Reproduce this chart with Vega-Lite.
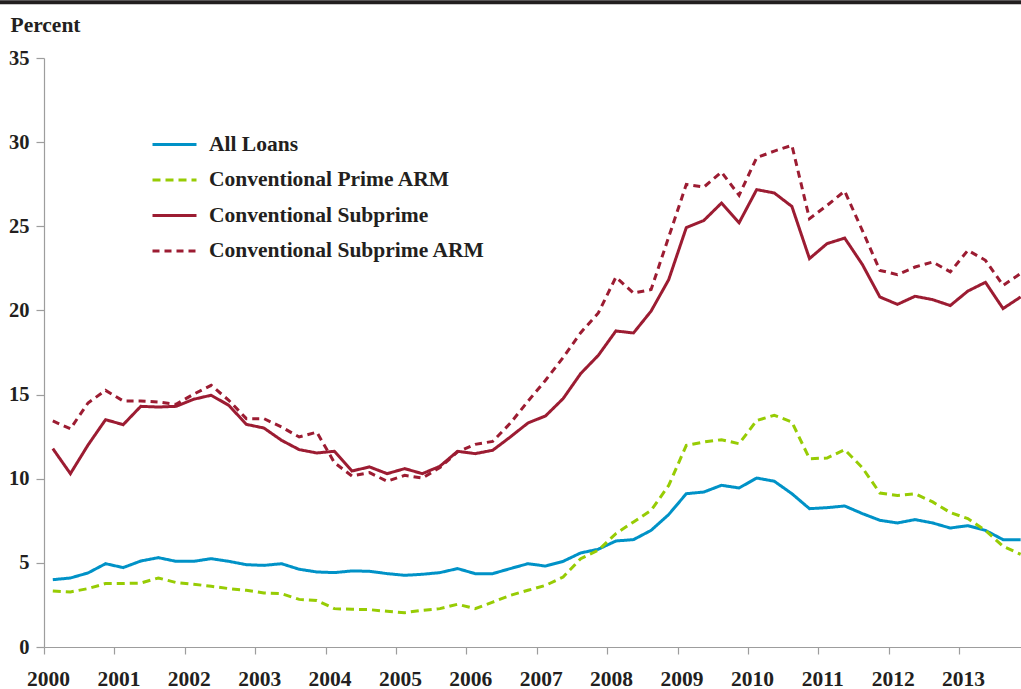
{
  "$schema": "https://vega.github.io/schema/vega-lite/v6.json",
  "width": 977,
  "height": 589,
  "autosize": {"type": "none"},
  "padding": {"left": 44, "top": 58, "right": 0, "bottom": 42},
  "background": "white",
  "config": {
    "view": {"stroke": null},
    "font": "Liberation Serif",
    "axis": {
      "labelFont": "Liberation Serif",
      "labelFontWeight": "bold",
      "labelFontSize": 20.5,
      "labelColor": "#231F20",
      "domainColor": "#9d9d9d",
      "tickColor": "#9d9d9d",
      "domainWidth": 1.2,
      "tickWidth": 1.2,
      "grid": false,
      "titleFont": "Liberation Serif",
      "titleFontWeight": "bold",
      "titleColor": "#231F20"
    },
    "legend": {
      "orient": "none",
      "legendX": 107,
      "legendY": 63,
      "labelFont": "Liberation Serif",
      "labelFontWeight": "bold",
      "labelFontSize": 21.5,
      "labelColor": "#231F20",
      "symbolType": "stroke",
      "symbolSize": 1936,
      "symbolStrokeWidth": 3,
      "labelOffset": 11,
      "rowPadding": 1.5,
      "labelLimit": 500
    }
  },
  "datasets": {
    "rates": [
      {"t": 2000.125, "All Loans": 4.00, "Conventional Prime ARM": 3.33, "Conventional Subprime": 11.79, "Conventional Subprime ARM": 13.43},
      {"t": 2000.375, "All Loans": 4.10, "Conventional Prime ARM": 3.27, "Conventional Subprime": 10.30, "Conventional Subprime ARM": 12.97},
      {"t": 2000.625, "All Loans": 4.40, "Conventional Prime ARM": 3.47, "Conventional Subprime": 12.00, "Conventional Subprime ARM": 14.50},
      {"t": 2000.875, "All Loans": 4.95, "Conventional Prime ARM": 3.77, "Conventional Subprime": 13.51, "Conventional Subprime ARM": 15.25},
      {"t": 2001.125, "All Loans": 4.72, "Conventional Prime ARM": 3.77, "Conventional Subprime": 13.21, "Conventional Subprime ARM": 14.62},
      {"t": 2001.375, "All Loans": 5.11, "Conventional Prime ARM": 3.80, "Conventional Subprime": 14.30, "Conventional Subprime ARM": 14.62},
      {"t": 2001.625, "All Loans": 5.31, "Conventional Prime ARM": 4.10, "Conventional Subprime": 14.26, "Conventional Subprime ARM": 14.56},
      {"t": 2001.875, "All Loans": 5.09, "Conventional Prime ARM": 3.83, "Conventional Subprime": 14.30, "Conventional Subprime ARM": 14.42},
      {"t": 2002.125, "All Loans": 5.09, "Conventional Prime ARM": 3.73, "Conventional Subprime": 14.72, "Conventional Subprime ARM": 15.02},
      {"t": 2002.375, "All Loans": 5.25, "Conventional Prime ARM": 3.61, "Conventional Subprime": 14.96, "Conventional Subprime ARM": 15.55},
      {"t": 2002.625, "All Loans": 5.09, "Conventional Prime ARM": 3.47, "Conventional Subprime": 14.36, "Conventional Subprime ARM": 14.66},
      {"t": 2002.875, "All Loans": 4.89, "Conventional Prime ARM": 3.37, "Conventional Subprime": 13.23, "Conventional Subprime ARM": 13.57},
      {"t": 2003.125, "All Loans": 4.85, "Conventional Prime ARM": 3.21, "Conventional Subprime": 13.01, "Conventional Subprime ARM": 13.57},
      {"t": 2003.375, "All Loans": 4.95, "Conventional Prime ARM": 3.17, "Conventional Subprime": 12.28, "Conventional Subprime ARM": 13.07},
      {"t": 2003.625, "All Loans": 4.62, "Conventional Prime ARM": 2.83, "Conventional Subprime": 11.73, "Conventional Subprime ARM": 12.48},
      {"t": 2003.875, "All Loans": 4.46, "Conventional Prime ARM": 2.77, "Conventional Subprime": 11.53, "Conventional Subprime ARM": 12.77},
      {"t": 2004.125, "All Loans": 4.42, "Conventional Prime ARM": 2.28, "Conventional Subprime": 11.63, "Conventional Subprime ARM": 10.96},
      {"t": 2004.375, "All Loans": 4.52, "Conventional Prime ARM": 2.24, "Conventional Subprime": 10.46, "Conventional Subprime ARM": 10.16},
      {"t": 2004.625, "All Loans": 4.50, "Conventional Prime ARM": 2.22, "Conventional Subprime": 10.70, "Conventional Subprime ARM": 10.36},
      {"t": 2004.875, "All Loans": 4.36, "Conventional Prime ARM": 2.12, "Conventional Subprime": 10.30, "Conventional Subprime ARM": 9.85},
      {"t": 2005.125, "All Loans": 4.26, "Conventional Prime ARM": 2.04, "Conventional Subprime": 10.60, "Conventional Subprime ARM": 10.20},
      {"t": 2005.375, "All Loans": 4.32, "Conventional Prime ARM": 2.18, "Conventional Subprime": 10.30, "Conventional Subprime ARM": 10.04},
      {"t": 2005.625, "All Loans": 4.42, "Conventional Prime ARM": 2.28, "Conventional Subprime": 10.74, "Conventional Subprime ARM": 10.66},
      {"t": 2005.875, "All Loans": 4.66, "Conventional Prime ARM": 2.54, "Conventional Subprime": 11.63, "Conventional Subprime ARM": 11.59},
      {"t": 2006.125, "All Loans": 4.36, "Conventional Prime ARM": 2.28, "Conventional Subprime": 11.49, "Conventional Subprime ARM": 12.04},
      {"t": 2006.375, "All Loans": 4.36, "Conventional Prime ARM": 2.67, "Conventional Subprime": 11.69, "Conventional Subprime ARM": 12.22},
      {"t": 2006.625, "All Loans": 4.66, "Conventional Prime ARM": 3.07, "Conventional Subprime": 12.48, "Conventional Subprime ARM": 13.30},
      {"t": 2006.875, "All Loans": 4.95, "Conventional Prime ARM": 3.37, "Conventional Subprime": 13.31, "Conventional Subprime ARM": 14.60},
      {"t": 2007.125, "All Loans": 4.81, "Conventional Prime ARM": 3.66, "Conventional Subprime": 13.73, "Conventional Subprime ARM": 15.85},
      {"t": 2007.375, "All Loans": 5.09, "Conventional Prime ARM": 4.16, "Conventional Subprime": 14.76, "Conventional Subprime ARM": 17.20},
      {"t": 2007.625, "All Loans": 5.59, "Conventional Prime ARM": 5.25, "Conventional Subprime": 16.25, "Conventional Subprime ARM": 18.68},
      {"t": 2007.875, "All Loans": 5.81, "Conventional Prime ARM": 5.75, "Conventional Subprime": 17.33, "Conventional Subprime ARM": 19.85},
      {"t": 2008.125, "All Loans": 6.30, "Conventional Prime ARM": 6.74, "Conventional Subprime": 18.78, "Conventional Subprime ARM": 21.98},
      {"t": 2008.375, "All Loans": 6.38, "Conventional Prime ARM": 7.43, "Conventional Subprime": 18.66, "Conventional Subprime ARM": 21.03},
      {"t": 2008.625, "All Loans": 6.93, "Conventional Prime ARM": 8.12, "Conventional Subprime": 19.96, "Conventional Subprime ARM": 21.24},
      {"t": 2008.875, "All Loans": 7.87, "Conventional Prime ARM": 9.60, "Conventional Subprime": 21.83, "Conventional Subprime ARM": 24.36},
      {"t": 2009.125, "All Loans": 9.11, "Conventional Prime ARM": 11.98, "Conventional Subprime": 24.92, "Conventional Subprime ARM": 27.49},
      {"t": 2009.375, "All Loans": 9.21, "Conventional Prime ARM": 12.18, "Conventional Subprime": 25.35, "Conventional Subprime ARM": 27.33},
      {"t": 2009.625, "All Loans": 9.61, "Conventional Prime ARM": 12.32, "Conventional Subprime": 26.38, "Conventional Subprime ARM": 28.22},
      {"t": 2009.875, "All Loans": 9.45, "Conventional Prime ARM": 12.08, "Conventional Subprime": 25.21, "Conventional Subprime ARM": 26.84},
      {"t": 2010.125, "All Loans": 10.04, "Conventional Prime ARM": 13.46, "Conventional Subprime": 27.18, "Conventional Subprime ARM": 29.08},
      {"t": 2010.375, "All Loans": 9.85, "Conventional Prime ARM": 13.77, "Conventional Subprime": 26.98, "Conventional Subprime ARM": 29.47},
      {"t": 2010.625, "All Loans": 9.11, "Conventional Prime ARM": 13.37, "Conventional Subprime": 26.18, "Conventional Subprime ARM": 29.81},
      {"t": 2010.875, "All Loans": 8.22, "Conventional Prime ARM": 11.19, "Conventional Subprime": 23.08, "Conventional Subprime ARM": 25.45},
      {"t": 2011.125, "All Loans": 8.28, "Conventional Prime ARM": 11.23, "Conventional Subprime": 23.97, "Conventional Subprime ARM": 26.24},
      {"t": 2011.375, "All Loans": 8.38, "Conventional Prime ARM": 11.73, "Conventional Subprime": 24.30, "Conventional Subprime ARM": 27.09},
      {"t": 2011.625, "All Loans": 7.93, "Conventional Prime ARM": 10.66, "Conventional Subprime": 22.74, "Conventional Subprime ARM": 24.76},
      {"t": 2011.875, "All Loans": 7.53, "Conventional Prime ARM": 9.15, "Conventional Subprime": 20.80, "Conventional Subprime ARM": 22.38},
      {"t": 2012.125, "All Loans": 7.37, "Conventional Prime ARM": 9.01, "Conventional Subprime": 20.36, "Conventional Subprime ARM": 22.13},
      {"t": 2012.375, "All Loans": 7.57, "Conventional Prime ARM": 9.11, "Conventional Subprime": 20.84, "Conventional Subprime ARM": 22.58},
      {"t": 2012.625, "All Loans": 7.37, "Conventional Prime ARM": 8.62, "Conventional Subprime": 20.64, "Conventional Subprime ARM": 22.88},
      {"t": 2012.875, "All Loans": 7.07, "Conventional Prime ARM": 7.99, "Conventional Subprime": 20.29, "Conventional Subprime ARM": 22.29},
      {"t": 2013.125, "All Loans": 7.21, "Conventional Prime ARM": 7.63, "Conventional Subprime": 21.15, "Conventional Subprime ARM": 23.57},
      {"t": 2013.375, "All Loans": 6.93, "Conventional Prime ARM": 6.93, "Conventional Subprime": 21.67, "Conventional Subprime ARM": 22.98},
      {"t": 2013.625, "All Loans": 6.38, "Conventional Prime ARM": 5.98, "Conventional Subprime": 20.11, "Conventional Subprime ARM": 21.49},
      {"t": 2013.875, "All Loans": 6.38, "Conventional Prime ARM": 5.51, "Conventional Subprime": 20.80, "Conventional Subprime ARM": 22.20}
    ],
    "bar": [{"x": 1999.37, "x2": 2013.95, "y": 38.31}]
  },
  "layer": [
    {
      "data": {"name": "bar"},
      "mark": {"type": "rule", "color": "#231F20", "strokeWidth": 4, "clip": false},
      "encoding": {
        "x": {"field": "x", "type": "quantitative"},
        "x2": {"field": "x2"},
        "y": {"field": "y", "type": "quantitative"}
      }
    },
    {
      "data": {"name": "rates"},
      "transform": [
        {"fold": ["All Loans", "Conventional Prime ARM", "Conventional Subprime", "Conventional Subprime ARM"], "as": ["series", "value"]}
      ],
      "mark": {"type": "line", "strokeWidth": 3, "strokeJoin": "miter", "strokeCap": "butt"},
      "encoding": {
        "x": {
          "field": "t",
          "type": "quantitative",
          "scale": {"domain": [2000, 2013.88], "nice": false, "zero": false},
          "axis": {
            "title": null,
            "values": [2000, 2001, 2002, 2003, 2004, 2005, 2006, 2007, 2008, 2009, 2010, 2011, 2012, 2013],
            "format": "d",
            "tickSize": 7,
            "labelFontSize": 21.5,
            "labelPadding": 14,
            "labelOffset": 4,
            "labelFlush": false,
            "labelOverlap": false
          }
        },
        "y": {
          "field": "value",
          "type": "quantitative",
          "scale": {"domain": [0, 35], "nice": false},
          "axis": {
            "title": "Percent",
            "titleAngle": 0,
            "titleAlign": "left",
            "titleBaseline": "alphabetic",
            "titleX": -34,
            "titleY": -27,
            "titleFontSize": 21.5,
            "values": [0, 5, 10, 15, 20, 25, 30, 35],
            "tickSize": 8,
            "labelPadding": 7
          }
        },
        "color": {
          "field": "series",
          "type": "nominal",
          "scale": {
            "domain": ["All Loans", "Conventional Prime ARM", "Conventional Subprime", "Conventional Subprime ARM"],
            "range": ["#0092C7", "#97CC04", "#9C1C32", "#9C1C32"]
          },
          "legend": {"title": null}
        },
        "strokeDash": {
          "field": "series",
          "type": "nominal",
          "scale": {
            "domain": ["All Loans", "Conventional Prime ARM", "Conventional Subprime", "Conventional Subprime ARM"],
            "range": [[1, 0], [8, 5], [1, 0], [7, 5]]
          },
          "legend": {"title": null}
        }
      }
    }
  ]
}
